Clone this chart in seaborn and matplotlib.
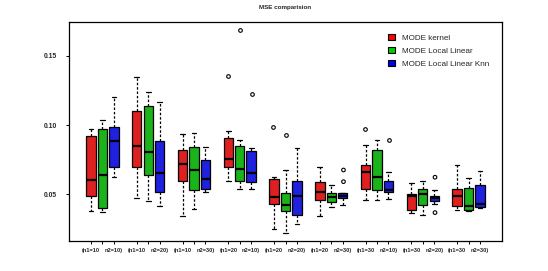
import numpy as np
import pandas as pd
import matplotlib
matplotlib.use("Agg")
import matplotlib.pyplot as plt
from matplotlib.patches import Patch
import seaborn as sns

# sample size settings (n1, n2)
groups = ["(n1=10, n2=10)", "(n1=10, n2=20)", "(n1=10, n2=30)",
          "(n1=20, n2=10)", "(n1=20, n2=20)", "(n1=20, n2=30)",
          "(n1=30, n2=10)", "(n1=30, n2=20)", "(n1=30, n2=30)"]
methods = ["MODE kernel", "MODE Local Linear", "MODE Local Linear Knn"]
colors = ["#FF0000", "#00CD00", "#0000FF"]

# five-number summaries: [lower whisker, q1, median, q3, upper whisker]
kernel = [[0.0382, 0.0487, 0.0602, 0.0923, 0.0973],
          [0.0473, 0.0698, 0.0847, 0.1099, 0.1343],
          [0.0344, 0.0597, 0.0717, 0.0822, 0.0933],
          [0.0600, 0.0696, 0.0753, 0.0909, 0.0959],
          [0.0252, 0.0430, 0.0480, 0.0610, 0.0624],
          [0.0346, 0.0461, 0.0520, 0.0590, 0.0700],
          [0.0463, 0.0540, 0.0664, 0.0710, 0.0854],
          [0.0365, 0.0391, 0.0487, 0.0502, 0.0585],
          [0.0389, 0.0418, 0.0487, 0.0538, 0.0712]]
local_linear = [[0.0372, 0.0401, 0.0638, 0.0971, 0.1038],
                [0.0454, 0.0643, 0.0808, 0.1134, 0.1239],
                [0.0396, 0.0530, 0.0674, 0.0842, 0.0942],
                [0.0538, 0.0595, 0.0686, 0.0851, 0.0894],
                [0.0223, 0.0380, 0.0423, 0.0509, 0.0674],
                [0.0410, 0.0444, 0.0480, 0.0509, 0.0571],
                [0.0459, 0.0530, 0.0626, 0.0818, 0.0894],
                [0.0351, 0.0427, 0.0504, 0.0540, 0.0597],
                [0.0380, 0.0387, 0.0420, 0.0545, 0.0619]]
local_linear_knn = [[0.0628, 0.0698, 0.0883, 0.0983, 0.1201],
                    [0.0420, 0.0516, 0.0655, 0.0883, 0.1168],
                    [0.0520, 0.0540, 0.0612, 0.0746, 0.0842],
                    [0.0542, 0.0588, 0.0657, 0.0811, 0.0837],
                    [0.0288, 0.0355, 0.0490, 0.0595, 0.0837],
                    [0.0427, 0.0475, 0.0492, 0.0509, 0.0512],
                    [0.0470, 0.0520, 0.0535, 0.0597, 0.0660],
                    [0.0434, 0.0456, 0.0475, 0.0492, 0.0533],
                    [0.0403, 0.0413, 0.0430, 0.0569, 0.0671]]

# outliers: (group index, method index, value)
outliers = [(3, 0, 0.1357), (3, 1, 0.1685), (3, 2, 0.1223),
            (4, 0, 0.0983), (4, 1, 0.0930),
            (5, 2, 0.0676), (5, 2, 0.0592),
            (6, 0, 0.0973), (6, 2, 0.0894),
            (7, 2, 0.0624), (7, 2, 0.0369)]

rows = []
for m, stats in zip(methods, [kernel, local_linear, local_linear_knn]):
    for g, five in zip(groups, stats):
        for v in five:
            rows.append({"group": g, "method": m, "mse": v})
df = pd.DataFrame(rows)

out_df = pd.DataFrame([{"group": groups[g], "method": methods[m], "mse": v}
                       for g, m, v in outliers])

sns.set_theme(style="white")
plt.rcParams["font.family"] = ["Liberation Sans", "DejaVu Sans"]

fig = plt.figure(figsize=(5.48, 2.71), dpi=100)
ax = fig.add_axes([0.126, 0.111, 0.790, 0.808])

sns.boxplot(data=df, x="group", y="mse", hue="method", order=groups,
            hue_order=methods, palette=colors, width=0.75, gap=0.18,
            whis=(0, 100), linecolor="black", linewidth=0.9,
            whiskerprops=dict(linestyle=(0, (2, 1.5))),
            medianprops=dict(linewidth=1.6),
            legend=False, ax=ax)

sns.stripplot(data=out_df, x="group", y="mse", hue="method", order=groups,
              hue_order=methods, palette=["white"] * 3, dodge=True,
              jitter=False, size=2.6, edgecolor="black", linewidth=0.8,
              legend=False, ax=ax)

ax.set_xlim(-0.73, 8.73)
ax.set_ylim(0.0165, 0.1743)

# one tick per box, labels split as "(n1=.." / "" / "n2=..)"
ticks, labels = [], []
for i, g in enumerate(groups):
    left, right = g.split(", ")
    for off, lab in zip([-0.25, 0, 0.25], [left, "", right]):
        ticks.append(i + off)
        labels.append(lab)
ax.set_xticks(ticks)
ax.set_xticklabels(labels, fontsize=4.1, fontweight="bold")
ax.set_yticks([0.05, 0.10, 0.15])
ax.set_yticklabels(["0.05", "0.10", "0.15"], fontsize=4.9, fontweight="bold")
ax.tick_params(axis="both", length=2.2, width=0.7, color="black",
               bottom=True, left=True)
ax.tick_params(axis="y", pad=6.3)
ax.tick_params(axis="x", pad=3.0)
for s in ax.spines.values():
    s.set_color("black")
    s.set_linewidth(0.9)

ax.set_xlabel("")
ax.set_ylabel("")
ax.set_title("MSE comparision", fontsize=4.5, fontweight="bold", pad=9)

handles = [Patch(facecolor=c, edgecolor="black", linewidth=0.8) for c in colors]
fig.legend(handles, methods, loc="upper left",
           bbox_to_anchor=(388 / 548, 1 - 34 / 271), frameon=False,
           fontsize=5.9, borderpad=0, borderaxespad=0,
           handlelength=0.8, handleheight=0.8, handletextpad=0.9,
           labelspacing=0.6)

fig.savefig("out.png", dpi=100)
